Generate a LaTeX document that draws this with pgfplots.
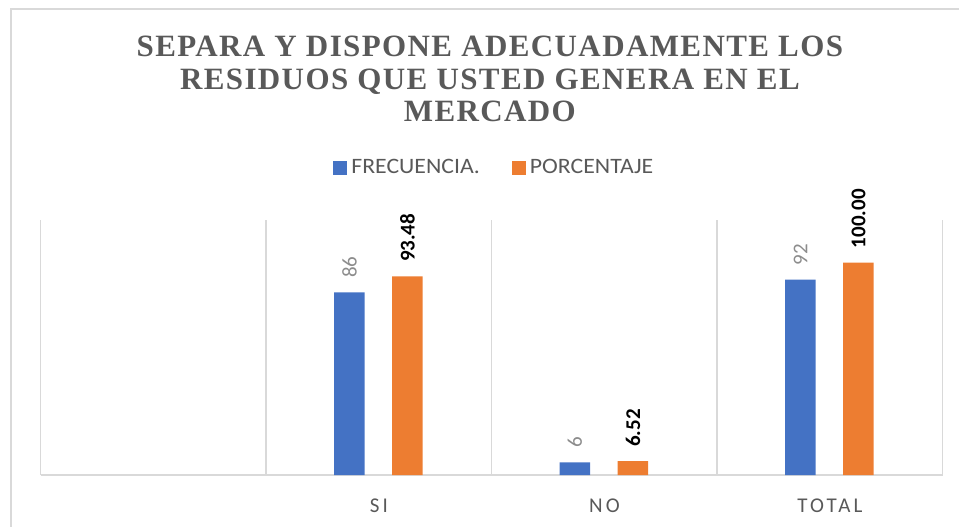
\documentclass[border=0pt]{standalone}
\usepackage{pgfplots}
\pgfplotsset{compat=1.18}
\usepackage{fontspec}
\setmainfont{Carlito}[FakeStretch=1.08]
\newfontfamily\titlefont{Liberation Serif}[LetterSpace=4.5]
\newfontfamily\tickfont{Carlito}[LetterSpace=15]
\newfontfamily\labfont{Carlito}
\definecolor{cblue}{HTML}{4472C4}
\definecolor{corange}{HTML}{ED7D31}
\definecolor{cgrid}{HTML}{D9D9D9}
\definecolor{ctext}{HTML}{595959}
\definecolor{clab}{HTML}{8C8C8C}
\begin{document}
\begin{tikzpicture}
\useasboundingbox (-20.35pt,-25.5pt) rectangle (459.15pt,237.5pt);
\draw[cgrid, line width=0.75pt] (-14.85pt,-26pt) -- (-14.85pt,233pt) -- (460pt,233pt);
\begin{axis}[
  at={(0pt,0pt)}, anchor=south west,
  width=451pt, height=127.5pt, scale only axis,
  xmin=-0.5, xmax=3.5, ymin=0, ymax=120,
  axis x line*=bottom, axis y line=none,
  x axis line style={cgrid, line width=0.75pt, -},
  xtick={1,2,3}, xticklabels={SI,NO,TOTAL},
  major tick length=0pt,
  xticklabel style={font=\fontsize{10.5}{12}\selectfont\tickfont, text=ctext, anchor=base, yshift=-18.5pt},
  minor xtick={-0.5,0.5,1.5,2.5,3.5},
  minor tick length=0pt,
  xminorgrids=true,
  minor grid style={cgrid, line width=0.75pt},
  ybar, bar width=15.25pt,
  title={SEPARA Y DISPONE ADECUADAMENTE LOS\\RESIDUOS QUE USTED GENERA EN EL\\MERCADO},
  title style={at={(0.498,1.506)}, anchor=center, align=center, font=\fontsize{15.5}{16.4}\selectfont\titlefont\bfseries, text=ctext},
  legend style={at={(0.504,1.204)}, anchor=center, draw=none, fill=none, legend columns=2, font=\fontsize{11}{13}\selectfont, text=ctext, /tikz/every even column/.append style={column sep=14pt}},
  point meta=explicit symbolic,
  nodes near coords,
  clip=false,
]
\addplot[fill=cblue, draw=none, bar shift=-14.75pt,
  legend image code/.code={\fill[cblue] (0pt,-3.5pt) rectangle (7pt,3.5pt);},
  nodes near coords style={font=\fontsize{10.5}{12}\selectfont\labfont, text=clab, rotate=90, anchor=west, inner sep=0pt, xshift=7pt}]
  coordinates {(1,86) [86] (2,6) [6] (3,92) [92]};
\addlegendentry{FRECUENCIA.}
\addplot[fill=corange, draw=none, bar shift=14.25pt,
  legend image code/.code={\fill[corange] (0pt,-3.5pt) rectangle (7pt,3.5pt);},
  nodes near coords style={font=\fontsize{10.5}{12}\selectfont\labfont\bfseries, text=black, rotate=90, anchor=west, inner sep=0pt, xshift=7pt}]
  coordinates {(1,93.48) [93.48] (2,6.52) [6.52] (3,100) [100.00]};
\addlegendentry{PORCENTAJE}
\end{axis}
\end{tikzpicture}
\end{document}
